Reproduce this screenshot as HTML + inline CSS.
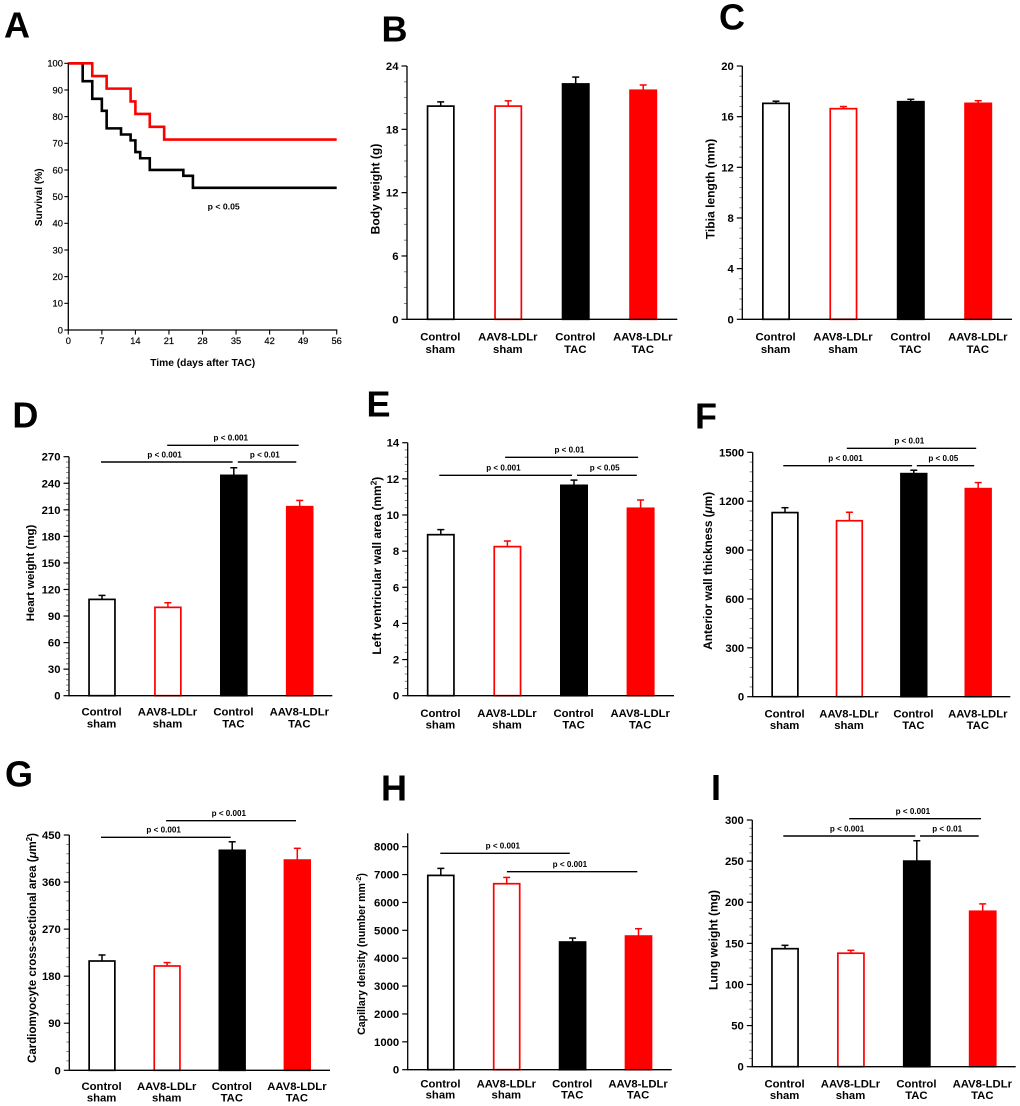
<!DOCTYPE html>
<html lang="en">
<head>
<meta charset="utf-8">
<title>Survival and cardiac hypertrophy panels</title>
<style>
html,body{margin:0;padding:0;background:#fff;width:1020px;height:1106px;overflow:hidden}
svg{display:block;filter:blur(0.35px)}
text{font-family:"Liberation Sans",Arial,sans-serif;fill:#000}
</style>
</head>
<body>
<svg id="figure" xmlns="http://www.w3.org/2000/svg" width="1020" height="1106" viewBox="0 0 1020 1106"></svg>
<script>
// ---------- data ----------
const categoryTop = ['Control', 'AAV8-LDLr', 'Control', 'AAV8-LDLr'];
const categoryBottom = ['sham', 'sham', 'TAC', 'TAC'];

const survivalTicksY = [0, 10, 20, 30, 40, 50, 60, 70, 80, 90, 100];
const survivalTicksX = [0, 7, 14, 21, 28, 35, 42, 49, 56];
const controlDays = [0, 3, 5, 7, 8, 11, 13, 14, 15, 17, 24, 26, 56];
const controlSurvival = [100, 93.3, 86.7, 82.2, 75.6, 73.3, 71.1, 66.7, 64.4, 60, 57.8, 53.3, 53.3];
const treatedDays = [0, 5, 8, 13, 14, 17, 20, 56];
const treatedSurvival = [100, 95.2, 90.5, 85.7, 81, 76.2, 71.4, 71.4];

const bodyWeightValues = [20.2, 20.2, 22.3, 21.7];
const bodyWeightErrorTops = [20.6, 20.7, 22.95, 22.2];
const bodyWeightTicks = [0, 6, 12, 18, 24];

const tibiaValues = [17.05, 16.63, 17.18, 17.05];
const tibiaErrorTops = [17.22, 16.8, 17.37, 17.26];
const tibiaTicks = [0, 4, 8, 12, 16, 20];

const heartValues = [108.8, 99.8, 248.9, 213.5];
const heartErrorTops = [113.3, 105, 257.5, 220.6];
const heartTicks = [0, 30, 60, 90, 120, 150, 180, 210, 240, 270];
const heartSigLabels = ['p < 0.001', 'p < 0.001', 'p < 0.01'];

const lvAreaValues = [8.91, 8.25, 11.64, 10.37];
const lvAreaErrorTops = [9.19, 8.56, 11.93, 10.83];
const lvAreaTicks = [0, 2, 4, 6, 8, 10, 12, 14];
const lvAreaSigLabels = ['p < 0.001', 'p < 0.01', 'p < 0.05'];

const wallValues = [1130, 1080, 1369, 1277];
const wallErrorTops = [1160, 1132, 1390, 1314];
const wallTicks = [0, 300, 600, 900, 1200, 1500];
const wallSigLabels = ['p < 0.001', 'p < 0.01', 'p < 0.05'];

const csaValues = [209, 199.5, 420.7, 402];
const csaErrorTops = [220.5, 206, 437, 424.5];
const csaTicks = [0, 90, 180, 270, 360, 450];
const csaSigLabels = ['p < 0.001', 'p < 0.001'];

const capillaryValues = [6970, 6672, 4580, 4794];
const capillaryErrorTops = [7222, 6898, 4722, 5058];
const capillaryTicks = [0, 1000, 2000, 3000, 4000, 5000, 6000, 7000, 8000];
const capillarySigLabels = ['p < 0.001', 'p < 0.001'];

const lungValues = [143.5, 138, 250, 189];
const lungErrorTops = [147.6, 141.5, 274.8, 198];
const lungTicks = [0, 50, 100, 150, 200, 250, 300];
const lungSigLabels = ['p < 0.001', 'p < 0.001', 'p < 0.01'];

// ---------- drawing ----------
const NS = 'http://www.w3.org/2000/svg';
const RED = '#ff0000';
const INK = '#000000';
const root = document.getElementById('figure');

function make(parent, tag, attrs, text) {
  const node = document.createElementNS(NS, tag);
  for (const k in attrs) node.setAttribute(k, attrs[k]);
  if (text !== undefined) node.textContent = text;
  parent.appendChild(node);
  return node;
}

function panelLetter(parent, letter, x, y) {
  const el = make(parent, 'text', {x: x, y: y, 'font-size': 36, 'font-weight': 700, fill: '#000'}, letter);
  
  
}

function yTitle(parent, pieces, cx, cy, size) {
  const el = make(parent, 'text', {
    transform: 'translate(' + (cx + size * 0.36) + ',' + cy + ') rotate(-90)',
    'text-anchor': 'middle', 'font-size': size, 'font-weight': 700
  });
  
  
  let raised = false;
  pieces.forEach(function (p) {
    const attrs = {};
    if (p.sup) { attrs['font-size'] = size * 0.68; attrs.dy = -size * 0.38; raised = true; }
    else if (raised) { attrs.dy = size * 0.38; raised = false; }
    if (p.it) attrs['font-style'] = 'italic';
    make(el, 'tspan', attrs, p.t);
  });
}

function drawBarPanel(p) {
  const g = make(root, 'g', {});
  
  
  panelLetter(g, p.letter, p.letterX, p.letterY);

  const maxV = p.ticks[p.ticks.length - 1];
  const yScale = function (v) { return p.bottom - (v / maxV) * (p.bottom - p.top); };
  const xScale = function (i) { return p.firstCenter + i * p.step; };
  const axisTop = p.axisTop === undefined ? p.top : p.axisTop;

  yTitle(g, p.title, p.titleX, p.titleY, p.titleSize);

  // minor ticks
  if (p.minorDiv > 1) {
    const tickStep = p.ticks[1] - p.ticks[0];
    for (let v = 0; v < maxV - 1e-6; v += tickStep / p.minorDiv) {
      const idx = Math.round(v / (tickStep / p.minorDiv));
      if (idx % p.minorDiv === 0) continue;
      const mt = make(g, 'line', {x1: p.axisX - 3, x2: p.axisX, y1: yScale(v), y2: yScale(v), stroke: '#666', 'stroke-width': 0.8});
      
      
    }
  }
  // major ticks & labels
  p.ticks.forEach(function (v) {
    const t = make(g, 'line', {x1: p.axisX - 5.5, x2: p.axisX, y1: yScale(v), y2: yScale(v), stroke: INK, 'stroke-width': 1.2});
    
    
    const l = make(g, 'text', {x: p.axisX - 8.5, y: yScale(v) + 4, 'text-anchor': 'end', 'font-size': 11.3, 'font-weight': 700}, String(v));
    
    
  });

  // error bars then bars
  p.values.forEach(function (v, i) {
    const color = i % 2 === 1 ? RED : INK;
    const filled = i >= 2;
    const cx = xScale(i);
    const stem = make(g, 'line', {x1: cx, x2: cx, y1: yScale(v), y2: yScale(p.errorTops[i]), stroke: color, 'stroke-width': 1.5});
    
    
    const cap = make(g, 'line', {x1: cx - 3.5, x2: cx + 3.5, y1: yScale(p.errorTops[i]), y2: yScale(p.errorTops[i]), stroke: color, 'stroke-width': 1.5});
    
    
    const w = p.barW - 1.7;
    const bar = make(g, 'rect', {
      x: cx - w / 2, y: yScale(v), width: w, height: p.bottom - yScale(v),
      fill: filled ? (i === 3 ? RED : '#000') : '#fff', stroke: color, 'stroke-width': 1.7
    });
    
    

    const top = make(g, 'text', {x: cx - 0.4, y: p.bottom + p.labelDy + 4, 'text-anchor': 'middle', 'font-size': 11.3, 'font-weight': 700}, categoryTop[i]);
    
    
    const bot = make(g, 'text', {x: cx - 0.4, y: p.bottom + p.labelDy + p.labelGap + 4, 'text-anchor': 'middle', 'font-size': 11.3, 'font-weight': 700}, categoryBottom[i]);
    
    
  });

  // axes
  const ya = make(g, 'line', {x1: p.axisX, x2: p.axisX, y1: axisTop, y2: p.bottom + 0.6, stroke: INK, 'stroke-width': 1.3});
  
  
  const xa = make(g, 'line', {x1: p.axisX, x2: p.xEnd, y1: p.bottom, y2: p.bottom, stroke: INK, 'stroke-width': 1.3});
  
  

  // significance brackets
  (p.sig || []).forEach(function (s, i) {
    const x1 = xScale(s.from) + s.startOffset;
    const x2 = xScale(s.to) + s.endOffset;
    const ln = make(g, 'line', {x1: x1, x2: x2, y1: s.y, y2: s.y, stroke: INK, 'stroke-width': 1.4});
    
    
    const tx = make(g, 'text', {x: (x1 + x2) / 2 - 2.2, y: s.y - 4.6, 'text-anchor': 'middle', 'font-size': 8.1, 'font-weight': 700}, p.sigLabels[i]);
    
    
  });
}

function drawSurvival() {
  const g = make(root, 'g', {});
  
  
  panelLetter(g, 'A', 4, 37.3);

  const L = 68.3, R = 336.7, T = 63.3, B = 330;
  const xMax = survivalTicksX[survivalTicksX.length - 1];
  const yMax = survivalTicksY[survivalTicksY.length - 1];
  const xs = function (d) { return L + d / xMax * (R - L); };
  const ys = function (v) { return B - v / yMax * (B - T); };

  yTitle(g, [{t: 'Survival (%)'}], 38.3, 197.3, 10.1);

  survivalTicksY.forEach(function (v) {
    const t = make(g, 'line', {x1: L - 4, x2: L, y1: ys(v), y2: ys(v), stroke: INK, 'stroke-width': 1.1});
    
    
    const l = make(g, 'text', {x: L - 5.4, y: ys(v) + 3.3, 'text-anchor': 'end', 'font-size': 9.3, stroke: '#000', 'stroke-width': 0.2}, String(v));
    
    
  });
  survivalTicksX.forEach(function (d) {
    const t = make(g, 'line', {x1: xs(d), x2: xs(d), y1: B, y2: B + 4.5, stroke: INK, 'stroke-width': 1.1});
    
    
    const l = make(g, 'text', {x: xs(d), y: 344, 'text-anchor': 'middle', 'font-size': 9.3, stroke: '#000', 'stroke-width': 0.2}, String(d));
    
    
  });

  function stepPath(days, vals) {
    let d = 'M' + xs(days[0]) + ' ' + ys(vals[0]);
    for (let i = 1; i < days.length; i++) {
      d += ' H' + xs(days[i]) + ' V' + ys(vals[i]);
    }
    return d;
  }
  const black = make(g, 'path', {d: stepPath(controlDays, controlSurvival), fill: 'none', stroke: '#000', 'stroke-width': 2.6});
  
  
  const red = make(g, 'path', {d: stepPath(treatedDays, treatedSurvival), fill: 'none', stroke: RED, 'stroke-width': 2.6});
  
  

  const ya = make(g, 'line', {x1: L, x2: L, y1: T, y2: B + 0.6, stroke: INK, 'stroke-width': 1.3});
  
  
  const xa = make(g, 'line', {x1: L - 0.6, x2: R + 0.6, y1: B, y2: B, stroke: INK, 'stroke-width': 1.3});
  
  

  const title = make(g, 'text', {x: 202.7, y: 366, 'text-anchor': 'middle', 'font-size': 10.25, 'font-weight': 700}, 'Time (days after TAC)');
  
  
  const pv = make(g, 'text', {x: 223.7, y: 209.6, 'text-anchor': 'middle', 'font-size': 8.7, 'font-weight': 700}, 'p < 0.05');
  
  
}

drawSurvival();

drawBarPanel({letter: 'B', letterX: 381.5, letterY: 41.7, values: bodyWeightValues, errorTops: bodyWeightErrorTops, ticks: bodyWeightTicks,
  minorDiv: 4, axisX: 407, top: 66, bottom: 319.3, xEnd: 677.3, firstCenter: 440.7, step: 67.5, barW: 28,
  labelDy: 17.4, labelGap: 12.2, titleX: 375, titleY: 189, titleSize: 12.1, title: [{t: 'Body weight (g)'}]});

drawBarPanel({letter: 'C', letterX: 719, letterY: 29.7, values: tibiaValues, errorTops: tibiaErrorTops, ticks: tibiaTicks,
  minorDiv: 5, axisX: 742.3, top: 66, bottom: 319.3, xEnd: 1012, firstCenter: 776, step: 67.4, barW: 28,
  labelDy: 17.4, labelGap: 12.2, titleX: 710, titleY: 189, titleSize: 12.1, title: [{t: 'Tibia length (mm)'}]});

drawBarPanel({letter: 'D', letterX: 12.4, letterY: 427.3, values: heartValues, errorTops: heartErrorTops, ticks: heartTicks,
  minorDiv: 5, axisX: 69, top: 456.7, bottom: 695.7, xEnd: 332.3, firstCenter: 102, step: 65.9, barW: 27.6,
  labelDy: 16, labelGap: 11.6, titleX: 30, titleY: 573, titleSize: 11.45, title: [{t: 'Heart weight (mg)'}],
  sigLabels: heartSigLabels,
  sig: [{from: 0, to: 2, startOffset: -1, endOffset: -1.2, y: 462},
        {from: 1, to: 3, startOffset: -0.7, endOffset: -1, y: 445.3},
        {from: 2, to: 3, startOffset: 4, endOffset: -3.4, y: 462}]});

drawBarPanel({letter: 'E', letterX: 366.5, letterY: 416.7, values: lvAreaValues, errorTops: lvAreaErrorTops, ticks: lvAreaTicks,
  minorDiv: 5, axisX: 407.7, top: 442.7, bottom: 695.7, xEnd: 674, firstCenter: 440.8, step: 66.6, barW: 28,
  labelDy: 17.3, labelGap: 11.7, titleX: 376.7, titleY: 565.7, titleSize: 12, title: [{t: 'Left ventricular wall area (mm'}, {t: '2', sup: true}, {t: ')'}],
  sigLabels: lvAreaSigLabels,
  sig: [{from: 0, to: 2, startOffset: -1.5, endOffset: -2, y: 475.3},
        {from: 1, to: 3, startOffset: -2.3, endOffset: -2.5, y: 457.3},
        {from: 2, to: 3, startOffset: 3, endOffset: -3.8, y: 475.3}]});

drawBarPanel({letter: 'F', letterX: 695, letterY: 428.3, values: wallValues, errorTops: wallErrorTops, ticks: wallTicks,
  minorDiv: 5, axisX: 752.7, top: 452.3, bottom: 696.7, xEnd: 1010.3, firstCenter: 785, step: 64.4, barW: 27.4,
  labelDy: 16.6, labelGap: 11.7, titleX: 708, titleY: 570.8, titleSize: 11.8, title: [{t: 'Anterior wall thickness ('}, {t: 'μ', it: true}, {t: 'm)'}],
  sigLabels: wallSigLabels,
  sig: [{from: 0, to: 2, startOffset: -1.7, endOffset: -1.7, y: 465.7},
        {from: 1, to: 3, startOffset: -2.6, endOffset: -2, y: 448.3},
        {from: 2, to: 3, startOffset: 3, endOffset: -4, y: 465.7}]});

drawBarPanel({letter: 'G', letterX: 5, letterY: 786.3, values: csaValues, errorTops: csaErrorTops, ticks: csaTicks,
  minorDiv: 5, axisX: 69.3, top: 835, bottom: 1070.3, xEnd: 330, firstCenter: 102, step: 65.1, barW: 27.4,
  labelDy: 15.7, labelGap: 11.7, titleX: 32, titleY: 948, titleSize: 11.5, title: [{t: 'Cardiomyocyte cross-sectional area ('}, {t: 'μ', it: true}, {t: 'm'}, {t: '2', sup: true}, {t: ')'}],
  sigLabels: csaSigLabels,
  sig: [{from: 0, to: 2, startOffset: -1, endOffset: -1.5, y: 837.3},
        {from: 1, to: 3, startOffset: -1, endOffset: -1.3, y: 820.7}]});

drawBarPanel({letter: 'H', letterX: 381, letterY: 800.7, values: capillaryValues, errorTops: capillaryErrorTops, ticks: capillaryTicks,
  minorDiv: 1, axisX: 407.7, top: 846.7, axisTop: 833.3, bottom: 1069.7, xEnd: 671.7, firstCenter: 440.8, step: 65.9, barW: 27.7,
  labelDy: 14, labelGap: 10.6, titleX: 361, titleY: 954, titleSize: 10.6, title: [{t: 'Capillary density (number mm'}, {t: '-2', sup: true}, {t: ')'}],
  sigLabels: capillarySigLabels,
  sig: [{from: 0, to: 2, startOffset: -0.5, endOffset: -2.8, y: 853.3},
        {from: 1, to: 3, startOffset: 0.2, endOffset: -1.2, y: 871.7}]});

drawBarPanel({letter: 'I', letterX: 711, letterY: 800, values: lungValues, errorTops: lungErrorTops, ticks: lungTicks,
  minorDiv: 5, axisX: 752.3, top: 820, bottom: 1066.7, xEnd: 1015.7, firstCenter: 785, step: 65.9, barW: 27.8,
  labelDy: 16.6, labelGap: 11.7, titleX: 713.3, titleY: 940, titleSize: 12, title: [{t: 'Lung weight (mg)'}],
  sigLabels: lungSigLabels,
  sig: [{from: 0, to: 2, startOffset: -1.7, endOffset: -1.5, y: 836},
        {from: 1, to: 3, startOffset: -1.7, endOffset: -1.7, y: 818.7},
        {from: 2, to: 3, startOffset: 3.2, endOffset: -4, y: 836}]});
</script>
</body>
</html>
